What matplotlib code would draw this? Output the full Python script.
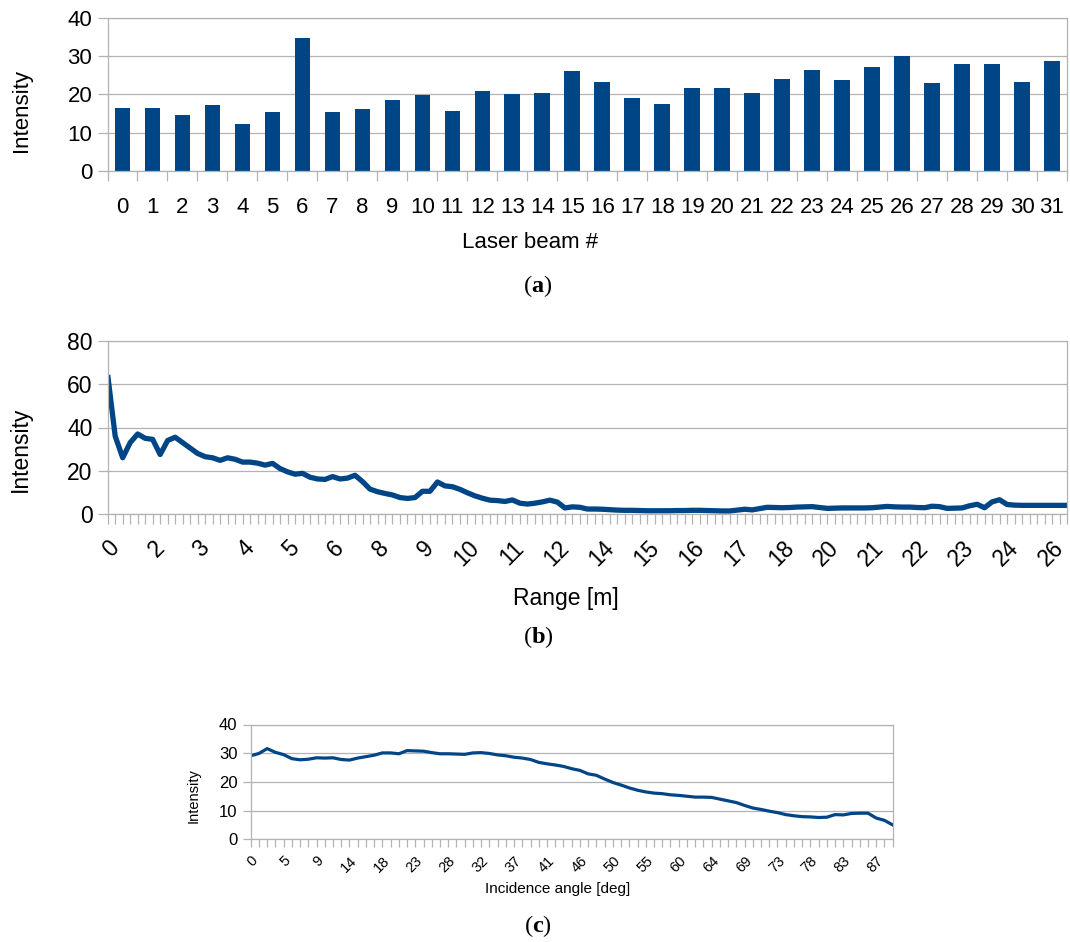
import matplotlib.pyplot as plt

plt.rcParams['font.family'] = ['Liberation Sans', 'DejaVu Sans']
plt.rcParams['mathtext.fontset'] = 'custom'
plt.rcParams['mathtext.rm'] = 'Liberation Serif'
plt.rcParams['mathtext.bf'] = 'Liberation Serif:bold'

BLUE = '#004586'
GRID = '#b3b3b3'

# (a) mean intensity per laser beam
beams = list(range(32))
beam_intensity = [16.4, 16.4, 14.6, 17.2, 12.3, 15.4, 34.7, 15.4, 16.2, 18.5,
                  19.8, 15.7, 20.9, 20.1, 20.3, 26.1, 23.2, 19.0, 17.5, 21.7,
                  21.7, 20.3, 24.0, 26.3, 23.7, 27.1, 30.0, 23.0, 27.9, 27.9,
                  23.2, 28.7]

# (b) intensity against range (category axis, labelled every 6th sample)
range_intensity = [
    64.3, 36.0, 26.0, 33.0, 37.0, 35.0, 34.5, 27.5, 34.0, 35.5,
    33.0, 30.5, 28.0, 26.5, 26.0, 24.8, 26.0, 25.3, 24.0, 24.0,
    23.5, 22.6, 23.4, 21.0, 19.5, 18.4, 18.8, 17.0, 16.2, 16.0,
    17.3, 16.2, 16.6, 17.9, 15.0, 11.5, 10.3, 9.5, 8.8, 7.6,
    7.2, 7.6, 10.5, 10.5, 14.8, 13.0, 12.6, 11.4, 9.8, 8.4,
    7.3, 6.4, 6.2, 5.8, 6.5, 5.0, 4.6, 5.0, 5.6, 6.4,
    5.5, 2.8, 3.3, 3.1, 2.3, 2.3, 2.2, 2.0, 1.8, 1.7,
    1.7, 1.6, 1.5, 1.5, 1.5, 1.5, 1.6, 1.6, 1.7, 1.7,
    1.6, 1.5, 1.4, 1.4, 1.8, 2.2, 1.9, 2.5, 3.1, 3.0,
    2.9, 3.0, 3.2, 3.3, 3.4, 3.0, 2.6, 2.7, 2.8, 2.8,
    2.8, 2.8, 2.9, 3.2, 3.5, 3.3, 3.2, 3.2, 3.0, 2.9,
    3.6, 3.4, 2.6, 2.7, 2.8, 3.8, 4.5, 2.9, 5.6, 6.6,
    4.4, 4.1, 4.0, 4.0, 4.0, 4.0, 4.0, 4.0, 4.0]
range_labels = ['0', '2', '3', '4', '5', '6', '8', '9', '10', '11', '12',
                '14', '15', '16', '17', '18', '20', '21', '22', '23', '24', '26']

# (c) intensity against incidence angle (labelled every 4th sample)
angle_intensity = [
    29.1, 29.9, 31.6, 30.3, 29.5, 28.1, 27.7, 27.9, 28.4, 28.3,
    28.4, 27.8, 27.6, 28.3, 28.8, 29.3, 30.1, 30.1, 29.8, 30.9,
    30.8, 30.7, 30.2, 29.8, 29.8, 29.7, 29.6, 30.1, 30.2, 29.9,
    29.4, 29.1, 28.6, 28.3, 27.8, 26.8, 26.3, 25.9, 25.4, 24.6,
    24.0, 22.8, 22.3, 21.0, 19.8, 18.9, 17.9, 17.1, 16.5, 16.1,
    15.9, 15.5, 15.3, 15.0, 14.7, 14.7, 14.6, 14.0, 13.4, 12.8,
    11.8, 10.9, 10.4, 9.8, 9.3, 8.6, 8.2, 7.9, 7.8, 7.6,
    7.7, 8.6, 8.5, 9.0, 9.1, 9.1, 7.4, 6.6, 5.0]
angle_labels = ['0', '5', '9', '14', '18', '23', '28', '32', '37', '41',
                '46', '50', '55', '60', '64', '69', '73', '78', '83', '87']

W, H = 1070, 942
fig = plt.figure(figsize=(W / 100, H / 100), dpi=100)


def add_ax(left, top, right, bottom):
    return fig.add_axes([left / W, 1 - bottom / H, (right - left) / W, (bottom - top) / H])


def style(ax, ylim, ystep, ticklen, fs):
    ax.set_ylim(*ylim)
    ax.set_yticks(range(ylim[0], ylim[1] + 1, ystep))
    for s in ax.spines.values():
        s.set_color(GRID)
        s.set_linewidth(0.9)
    ax.yaxis.grid(True, color=GRID, linewidth=0.9)
    ax.set_axisbelow(True)
    ax.tick_params(axis='y', which='both', length=ticklen, width=0.9, color=GRID,
                   labelsize=fs, pad=4)
    ax.tick_params(axis='x', which='both', length=ticklen, width=0.9, color=GRID)


# --- (a) bars ---
ax1 = add_ax(107.5, 17.7, 1067, 171)
ax1.bar(beams, beam_intensity, width=0.52, color=BLUE)
ax1.set_xlim(-0.5, 31.5)
style(ax1, (0, 40), 10, 7, 16)
ax1.set_xticks(beams)
ax1.set_xticklabels([str(b) for b in beams])
ax1.set_xticks([b - 0.5 for b in beams] + [31.5], minor=True)
ax1.tick_params(axis='x', which='major', length=0, labelsize=16, pad=19)
fig.text(530 / W, 1 - 242 / H, 'Laser beam #', ha='center', va='center', fontsize=16)
fig.text(21 / W, 1 - 110 / H, 'Intensity', rotation=90, ha='center', va='center', fontsize=16)

# --- (b) range ---
ax2 = add_ax(107.7, 341, 1067, 514)
ax2.plot(range(len(range_intensity)), range_intensity, color=BLUE, linewidth=3.8,
         solid_joinstyle='round', solid_capstyle='butt')
ax2.set_xlim(0, len(range_intensity) - 1)
style(ax2, (0, 80), 20, 7, 16.5)
ax2.set_xticks(range(0, 6 * len(range_labels), 6))
ax2.set_xticklabels(range_labels, rotation=45, ha='right', rotation_mode='anchor')
ax2.set_xticks(range(len(range_intensity)), minor=True)
ax2.tick_params(axis='x', which='major', labelsize=16.5, pad=9)
fig.text(566 / W, 1 - 598 / H, 'Range [m]', ha='center', va='center', fontsize=16.5)
fig.text(20 / W, 1 - 449 / H, 'Intensity', rotation=90, ha='center', va='center', fontsize=16.5)

# --- (c) incidence angle ---
ax3 = add_ax(250.7, 724.5, 892.7, 839.3)
ax3.plot(range(len(angle_intensity)), angle_intensity, color=BLUE, linewidth=2.3,
         solid_joinstyle='round')
ax3.set_xlim(0, len(angle_intensity) - 1)
style(ax3, (0, 40), 10, 5.5, 12)
ax3.set_xticks(range(0, 4 * len(angle_labels), 4))
ax3.set_xticklabels(angle_labels, rotation=45, ha='right', rotation_mode='anchor')
ax3.set_xticks(range(len(angle_intensity)), minor=True)
ax3.tick_params(axis='x', which='major', labelsize=10.5, pad=5)
fig.text(558 / W, 1 - 889 / H, 'Incidence angle [deg]', ha='center', va='center', fontsize=11)
fig.text(194 / W, 1 - 796 / H, 'Intensity', rotation=90, ha='center', va='center', fontsize=10.5)

# sub-figure captions
for lab, y in [('a', 286), ('b', 637), ('c', 926)]:
    fig.text(538 / W, 1 - y / H, r'($\mathbf{%s}$)' % lab, ha='center', va='center',
             fontsize=17.5, family='Liberation Serif')

fig.savefig('out.png', dpi=100)
